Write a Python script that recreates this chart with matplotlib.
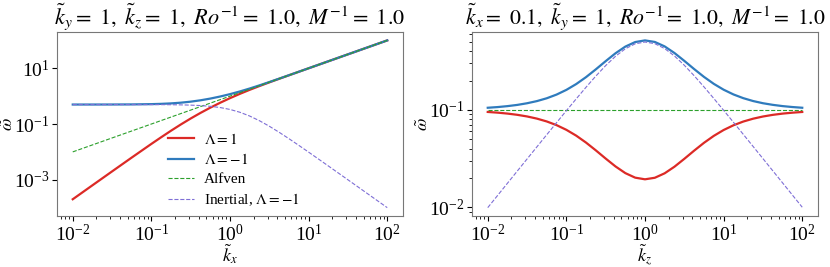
import matplotlib
matplotlib.use("Agg")
import matplotlib.pyplot as plt
import matplotlib.ticker as mticker
import numpy as np

plt.rcParams['font.family'] = 'serif'
plt.rcParams['font.serif'] = ['Liberation Serif', 'DejaVu Serif']
plt.rcParams['mathtext.fontset'] = 'stix'

# left panel: frequencies vs k_x  (k_y = 1, k_z = 1)
kx = [0.01, 0.01778, 0.03162, 0.05623, 0.1, 0.1334, 0.1778, 0.2371, 0.3162, 0.4217,
      0.5623, 0.7499, 1.0, 1.334, 1.778, 2.371, 3.162, 4.217, 5.623, 7.499,
      10.0, 17.78, 31.62, 56.23, 100.0]
w_plus_x = [0.5002, 0.5006, 0.5018, 0.5055, 0.5169, 0.5292, 0.5497, 0.5828, 0.6339, 0.7097,
            0.8182, 0.9700, 1.1805, 1.4724, 1.8778, 2.4379, 3.2042, 4.2423, 5.6383, 7.5075,
            10.005, 17.784, 31.624, 56.234, 100.0]
w_minus_x = [0.0002, 0.000632, 0.001993, 0.006256, 0.01935, 0.03360, 0.05752, 0.09649, 0.1578, 0.2506,
             0.3865, 0.5797, 0.8471, 1.2077, 1.6841, 2.3067, 3.1209, 4.1918, 5.6086, 7.4903,
             9.995, 17.781, 31.622, 56.234, 100.0]
w_alf_x = kx
w_inert_x = [0.5, 0.4999, 0.4998, 0.4992, 0.4975, 0.4956, 0.4922, 0.4863, 0.4762, 0.4592,
             0.4317, 0.3903, 0.3333, 0.2647, 0.1937, 0.1312, 0.08333, 0.05055, 0.02974, 0.01717,
             0.009804, 0.003142, 0.000998, 0.000316, 0.0001]

# right panel: frequencies vs k_z  (k_x = 0.1, k_y = 1)
kz = [0.01, 0.01334, 0.01778, 0.02371, 0.03162, 0.04217, 0.05623, 0.07499,
      0.1, 0.1334, 0.1778, 0.2371, 0.3162, 0.4217, 0.5623, 0.7499,
      1.0, 1.334, 1.778, 2.371, 3.162, 4.217, 5.623, 7.499,
      10.0, 13.34, 17.78, 23.71, 31.62, 42.17, 56.23, 74.99, 100.0]
w_plus_z = [0.1051, 0.1068, 0.1092, 0.1124, 0.1169, 0.1230, 0.1315, 0.1435,
            0.1604, 0.1841, 0.2168, 0.2608, 0.3165, 0.3813, 0.4464, 0.4970,
            0.5169, 0.4983, 0.4485, 0.3836, 0.3186, 0.2625, 0.2182, 0.1850,
            0.1611, 0.1440, 0.1319, 0.1232, 0.1170, 0.1126, 0.1093, 0.1069, 0.1051]
w_minus_z = [0.09517, 0.09362, 0.09158, 0.08895, 0.08557, 0.08131, 0.07603, 0.06968,
             0.06235, 0.05433, 0.04612, 0.03835, 0.03160, 0.02623, 0.02240, 0.02012,
             0.01935, 0.02007, 0.02230, 0.02607, 0.03139, 0.03810, 0.04584, 0.05404,
             0.06208, 0.06944, 0.07583, 0.08114, 0.08544, 0.08885, 0.09151, 0.09355, 0.09513]
w_alf_z = [0.1] * len(kz)
w_inert_z = [0.0099, 0.0132, 0.0176, 0.02347, 0.03128, 0.04168, 0.0555, 0.07384,
             0.09804, 0.1297, 0.1707, 0.2224, 0.2849, 0.3550, 0.4240, 0.4769,
             0.4975, 0.4783, 0.4262, 0.3575, 0.2872, 0.2244, 0.1723, 0.1310,
             0.0990, 0.07457, 0.05606, 0.04209, 0.03159, 0.0237, 0.01778, 0.01333, 0.0100]

red = '#dc2a26'
blue = '#2f7bbd'
green = '#2ca02c'
purple = '#7f6fd6'

fig = plt.figure(figsize=(8.3, 2.67), dpi=100)
ax1 = fig.add_axes([0.0687, 0.191, 0.4168, 0.689])
ax2 = fig.add_axes([0.5687, 0.191, 0.4168, 0.689])

tick_fmt = mticker.FuncFormatter(lambda v, p: r'$\mathregular{10^{%d}}$' % round(np.log10(v)))

def draw(ax, x, wp, wm, wa, wi):
    ax.plot(x, wm, color=red, lw=1.6, label=r'$\Lambda = 1$')
    ax.plot(x, wp, color=blue, lw=1.6, label=r'$\Lambda = -1$')
    ax.plot(x, wa, color=green, lw=0.8, ls='--', label='Alfven')
    ax.plot(x, wi, color=purple, lw=0.8, ls='--', label=r'Inertial, $\Lambda = -1$')
    ax.set_xscale('log')
    ax.set_yscale('log')
    ax.set_ylabel(r'$\tilde{\omega}$', fontsize=13, labelpad=-2)
    ax.tick_params(labelsize=14, pad=2)
    ax.xaxis.set_major_formatter(tick_fmt)
    ax.yaxis.set_major_formatter(tick_fmt)
    for s in ax.spines.values():
        s.set_edgecolor('#777777')

draw(ax1, kx, w_plus_x, w_minus_x, w_alf_x, w_inert_x)
draw(ax2, kz, w_plus_z, w_minus_z, w_alf_z, w_inert_z)

ax1.set_yticks([1e-3, 1e-1, 1e1])
ax1.yaxis.set_minor_locator(mticker.NullLocator())
ax1.set_xlabel(r'$\tilde{k}_x$', fontsize=13, labelpad=-2)
ax2.set_xlabel(r'$\tilde{k}_z$', fontsize=13, labelpad=-2)
ax1.set_title(r'$\tilde{k}_y = \ 1,\ \tilde{k}_z = \ 1,\ Ro^{-1} = \ 1.0,\ M^{-1} = \ 1.0$', fontsize=16)
ax2.set_title(r'$\tilde{k}_x = \ 0.1,\ \tilde{k}_y = \ 1,\ Ro^{-1} = \ 1.0,\ M^{-1} = \ 1.0$', fontsize=15.7)
ax1.legend(loc='center left', frameon=False, fontsize=11, bbox_to_anchor=(0.28, 0.25),
           handlelength=1.75, handletextpad=0.6, labelspacing=0.35)

fig.savefig('out.png', dpi=100)
